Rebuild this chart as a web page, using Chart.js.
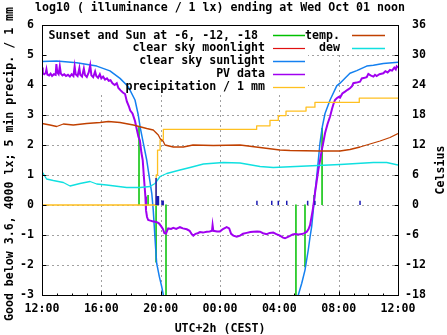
<!DOCTYPE html>
<html><head><meta charset="utf-8">
<script src="https://cdn.jsdelivr.net/npm/chart.js@4"></script>
<style>html,body{margin:0;padding:0;background:#fff}canvas{display:block}</style>
</head><body>
<canvas id="c" width="447" height="335"></canvas>
<script>
// ---------- text ----------
const titleText = "log10 ( illuminance / 1 lx) ending at Wed Oct 01 noon";
const yLeftTitle = "Good below 3.6, 4000 lx; 5 min precip. / 1 mm";
const yRightTitle = "Celsius";
const xTitle = "UTC+2h (CEST)";
const xTickLabels = ["12:00","16:00","20:00","00:00","04:00","08:00","12:00"];
const seriesNames = ["Sunset and Sun at -6, -12, -18 ","clear sky moonlight","clear sky sunlight","PV data","precipitation / 1 mm","temp.","dew"];

// ---------- data (x = hours since 12:00) ----------
const sunEventHours  = [6.54, 7.15, 7.69, 8.36, 17.12, 17.73, 18.34, 18.88];
const sunEventValues = [2.63, 0.33, -1.90, -3.60, -3.60, -2.06, 0.33, 2.57];

const moonHours = [];
const moonValues = [];

const sunHours  = [0, 0.99, 2.34, 3.69, 4.58, 5.26, 5.82, 6.27, 6.49, 6.61, 6.83, 7.06, 7.23, 7.40, 7.50, 7.57, 7.64, 7.73, 7.91, 8.07, 8.18, 8.30, null,
                   17.15, 17.28, 17.51, 17.73, 17.95, 18.07, 18.18, 18.29, 18.40, 18.52, 18.63, 18.74, 18.90, 19.08, 19.42, 19.87, 20.09, 20.76, 21.22, 21.89, 22.34, 23.01, 24.0];
const sunValues = [4.78, 4.80, 4.74, 4.63, 4.47, 4.22, 3.94, 3.50, 3.00, 2.61, 2.06, 1.50, 0.94, 0.39, -0.17, -0.72, -1.28, -1.94, -2.39, -2.72, -3.00, -3.30, null,
                   -3.30, -3.00, -2.61, -2.17, -1.50, -1.06, -0.72, -0.17, 0.39, 0.94, 1.50, 2.06, 2.61, 3.05, 3.50, 3.97, 4.06, 4.39, 4.48, 4.63, 4.66, 4.72, 4.76];

const pvHours = [0.00,0.05,0.15,0.25,0.30,0.36,0.48,0.58,0.68,0.80,0.92,0.97,1.03,1.12,1.20,1.27,1.38,1.50,1.62,1.75,1.88,2.00,2.12,2.20,2.27,2.40,2.52,2.58,2.70,2.82,2.90,3.02,3.15,3.25,3.33,3.45,3.58,3.66,3.78,3.90,4.00,4.12,4.25,4.38,4.50,4.62,4.75,4.90,5.04,5.15,5.30,5.45,5.60,5.72,5.85,5.95,6.10,6.27,6.40,6.50,6.60,6.70,6.79,6.86,6.92,6.97,7.01,7.08,7.16,7.30,7.45,7.62,7.78,7.90,8.05,8.15,8.25,8.36,8.45,8.51,8.70,8.85,9.05,9.30,9.50,9.76,9.95,10.10,10.20,10.35,10.50,10.65,10.85,11.10,11.30,11.46,11.50,11.55,11.80,12.00,12.20,12.45,12.62,12.75,12.90,13.13,13.35,13.55,13.80,14.05,14.25,14.50,14.70,14.90,15.15,15.35,15.59,15.80,16.04,16.25,16.38,16.55,16.72,16.90,17.06,17.30,17.51,17.70,17.85,17.97,18.07,18.17,18.25,18.33,18.40,18.52,18.63,18.75,18.86,18.97,19.08,19.25,19.42,19.55,19.64,19.75,19.87,20.00,20.09,20.25,20.43,20.60,20.76,20.90,20.99,21.20,21.44,21.56,21.75,21.89,22.00,22.15,22.34,22.45,22.56,22.75,23.01,23.15,23.30,23.46,23.60,23.75,23.85,23.91,24.00];
const pvValues = [4.58,4.40,4.36,4.40,4.52,4.35,4.32,4.38,4.30,4.36,4.34,4.70,4.42,4.36,4.62,4.38,4.32,4.36,4.30,4.34,4.28,4.36,4.30,4.62,4.36,4.30,4.56,4.34,4.28,4.55,4.33,4.27,4.42,4.66,4.32,4.26,4.45,4.30,4.24,4.36,4.22,4.28,4.18,4.22,4.14,4.16,4.06,4.00,4.06,3.90,3.82,3.75,3.70,3.45,3.30,3.15,3.05,2.80,2.50,2.28,2.15,1.75,1.50,1.00,0.60,0.28,-0.17,-0.40,-0.50,-0.52,-0.54,-0.56,-0.58,-0.62,-0.72,-0.80,-0.94,-0.95,-0.84,-0.78,-0.80,-0.76,-0.80,-0.74,-0.78,-0.81,-0.86,-0.98,-1.02,-0.96,-0.94,-0.90,-0.92,-0.89,-0.88,-0.86,-0.67,-0.86,-0.88,-0.88,-0.80,-0.74,-0.78,-0.96,-1.02,-1.06,-1.02,-0.96,-0.93,-0.90,-0.89,-0.88,-0.89,-0.94,-0.97,-0.93,-0.92,-0.97,-1.02,-1.09,-1.11,-1.07,-1.03,-0.98,-0.97,-0.98,-0.97,-0.94,-0.89,-0.80,-0.67,-0.40,-0.17,0.10,0.39,0.80,1.17,1.50,1.83,2.10,2.39,2.70,2.95,3.20,3.35,3.50,3.56,3.60,3.58,3.72,3.78,3.84,3.89,3.96,4.06,4.08,4.11,4.22,4.24,4.26,4.37,4.32,4.28,4.34,4.30,4.36,4.39,4.46,4.42,4.50,4.48,4.58,4.52,4.62,4.58];

const rainTotalHours  = [0, 7.66, 7.70, 7.79, 7.96, 8.18, 14.47, 15.37, 15.93, 16.45, 17.80, 18.40, 21.39, 24.0];
const rainTotalValues = [0, 0, 1.00, 1.83, 2.17, 2.52, 2.64, 2.82, 2.98, 3.13, 3.26, 3.42, 3.56, 3.56];

const rain5minHours  = [7.69, 7.77, 7.85, 8.09, 8.17, 14.49, 15.49, 15.93, 16.50, 17.91, 18.40, 21.44];
const rain5minValues = [0.90, 0.30, 0.30, 0.15, 0.15, 0.14, 0.14, 0.14, 0.14, 0.14, 0.14, 0.14];

const tempHours = [0, 0.54, 0.99, 1.44, 2.11, 3.01, 3.91, 4.47, 5.26, 6.16, 7.06, 7.50, 7.84, 7.96, 8.18, 8.29, 8.85, 9.53, 10.18, 11.55, 13.35, 14.70, 16.04, 16.72, 18.74, 20.09, 20.76, 21.44, 22.11, 22.79, 23.46, 24.0];
const tempC     = [16.3, 16.0, 15.7, 16.2, 16.0, 16.3, 16.5, 16.7, 16.5, 16.0, 15.3, 15.0, 14.0, 13.3, 12.7, 12.0, 11.6, 11.6, 12.0, 11.9, 12.0, 11.5, 11.0, 10.9, 10.8, 10.8, 11.1, 11.6, 12.2, 12.8, 13.5, 14.3];

const dewHours = [0, 0.31, 0.76, 1.44, 1.89, 2.56, 3.24, 3.69, 4.36, 5.71, 6.61, 7.28, 7.62, 7.96, 8.41, 9.30, 9.98, 10.88, 12.22, 13.35, 14.70, 15.59, 17.85, 20.09, 22.34, 23.24, 24.0];
const dewC     = [6.7, 5.2, 4.9, 4.5, 3.8, 4.3, 4.7, 4.2, 4.0, 3.5, 3.5, 3.7, 4.3, 5.7, 6.3, 7.0, 7.5, 8.2, 8.5, 8.4, 7.7, 7.5, 7.8, 8.1, 8.5, 8.5, 8.0];

// ---------- helpers ----------
const pts = (xs, ys) => xs.map((h, i) => ({x: h, y: ys[i]}));
const impulses = (xs, ys) => xs.flatMap((h, i) => [{x: h, y: 0}, {x: h, y: ys[i]}, {x: h, y: null}]);

const FAM = '"DejaVu Sans Mono", "Liberation Mono", monospace';
const FS = 11.6;
const FONT = 'bold ' + FS + 'px ' + FAM;

const base = {pointRadius: 0, pointHoverRadius: 0, tension: 0, fill: false, spanGaps: false, borderJoinStyle: 'round'};

const gnuplotLook = {
  id: 'gnuplotLook',
  beforeDraw(chart) {
    const c = chart.ctx; c.save(); c.fillStyle = '#fff'; c.fillRect(0, 0, chart.width, chart.height); c.restore();
  },
  beforeDatasetsDraw(chart) {
    const {ctx, chartArea: a, scales: {x, y}} = chart;
    ctx.save();
    ctx.strokeStyle = '#a0a0a0'; ctx.lineWidth = 1; ctx.setLineDash([2, 3]);
    x.ticks.forEach(t => {
      if (t.value <= x.min || t.value >= x.max) return;
      const p = Math.round(x.getPixelForValue(t.value)) + 0.5;
      ctx.beginPath(); ctx.moveTo(p, a.top); ctx.lineTo(p, a.bottom); ctx.stroke();
    });
    y.ticks.forEach(t => {
      if (t.value <= y.min || t.value >= y.max) return;
      const p = Math.round(y.getPixelForValue(t.value)) + 0.5;
      ctx.beginPath(); ctx.moveTo(a.left, p); ctx.lineTo(a.right, p); ctx.stroke();
    });
    ctx.setLineDash([]);
    // key area keeps the grid out
    ctx.fillStyle = '#fff';
    ctx.fillRect(a.left + 2, a.top + 1, 264, 68);
    ctx.fillRect(a.left + 266, a.top + 1, 84, 28);
    ctx.restore();
  },
  afterDatasetsDraw(chart) {
    const {ctx, chartArea: a, scales: {x, y, y2}} = chart;
    ctx.save();
    ctx.strokeStyle = '#000'; ctx.lineWidth = 1;
    const L = Math.round(a.left) + 0.5, R = Math.round(a.right) + 0.5, T = Math.round(a.top) + 0.5, B = Math.round(a.bottom) + 0.5;
    ctx.beginPath();
    for (let h = x.min; h <= x.max; h += 1) {
      const p = Math.round(x.getPixelForValue(h)) + 0.5;
      const len = (h % 4 === 0) ? 4 : 2;
      ctx.moveTo(p, B); ctx.lineTo(p, B - len);
    }
    y.ticks.forEach(t => { const p = Math.round(y.getPixelForValue(t.value)) + 0.5; ctx.moveTo(L, p); ctx.lineTo(L + 4, p); });
    y2.ticks.forEach(t => { const p = Math.round(y2.getPixelForValue(t.value)) + 0.5; ctx.moveTo(R, p); ctx.lineTo(R - 4, p); });
    ctx.stroke();
    ctx.strokeRect(L, T, R - L, B - T);
    ctx.restore();
  },
  afterDraw(chart) {
    const {ctx, chartArea: a} = chart;
    ctx.save();
    ctx.font = FONT; ctx.fillStyle = '#000';
    ctx.textAlign = 'center'; ctx.textBaseline = 'alphabetic';
    ctx.fillText(titleText, (a.left + a.right) / 2, 10.5);
    ctx.fillText(xTitle, (a.left + a.right) / 2, 332);
    ctx.save(); ctx.translate(12.5, 164); ctx.rotate(-Math.PI / 2); ctx.fillText(yLeftTitle, 0, 0); ctx.restore();
    ctx.save(); ctx.translate(443.5, 170); ctx.rotate(-Math.PI / 2); ctx.fillText(yRightTitle, 0, 0); ctx.restore();
    // key
    const entries = chart.data.datasets.filter(d => d.label);
    const cols = [{textR: 265, s0: 273, s1: 305, items: entries.slice(0, 5)}, {textR: 340, s0: 352, s1: 385, items: entries.slice(5)}];
    ctx.textAlign = 'right'; ctx.textBaseline = 'middle';
    cols.forEach(col => col.items.forEach((d, i) => {
      const yy = 35 + i * 12.9;
      ctx.fillStyle = '#000';
      ctx.fillText(d.label, col.textR, yy + 0.5);
      ctx.strokeStyle = d.borderColor; ctx.lineWidth = Math.min(d.borderWidth, 1.5);
      ctx.beginPath(); ctx.moveTo(col.s0, Math.round(yy) + 0.5); ctx.lineTo(col.s1, Math.round(yy) + 0.5); ctx.stroke();
    }));
    ctx.restore();
  }
};

new Chart(document.getElementById('c'), {
  type: 'line',
  data: {
    datasets: [
      {...base, label: seriesNames[0], data: impulses(sunEventHours, sunEventValues), borderColor: '#00c000', borderWidth: 1.5, yAxisID: 'y', order: 8},
      {...base, label: seriesNames[1], data: pts(moonHours, moonValues), borderColor: '#e01010', borderWidth: 1.2, yAxisID: 'y', order: 7},
      {...base, label: seriesNames[2], data: pts(sunHours, sunValues), borderColor: '#1480f0', borderWidth: 1.5, yAxisID: 'y', order: 6},
      {...base, label: seriesNames[3], data: pts(pvHours, pvValues), borderColor: '#a000f0', borderWidth: 2, yAxisID: 'y', order: 5, borderJoinStyle: 'miter'},
      {...base, label: seriesNames[4], data: pts(rainTotalHours, rainTotalValues), borderColor: '#ffc020', borderWidth: 1.3, stepped: true, yAxisID: 'y', order: 4},
      {...base, label: seriesNames[5], data: pts(tempHours, tempC), borderColor: '#c04000', borderWidth: 1.3, yAxisID: 'y2', order: 3},
      {...base, label: seriesNames[6], data: pts(dewHours, dewC), borderColor: '#10e0e0', borderWidth: 1.3, yAxisID: 'y2', order: 2},
      {...base, data: impulses(rain5minHours, rain5minValues), borderColor: '#1c1cb4', borderWidth: 1.5, yAxisID: 'y', order: 1}
    ]
  },
  options: {
    responsive: false, animation: false, devicePixelRatio: 1,
    layout: {padding: {top: 25, left: 0, right: 0, bottom: 0}},
    plugins: {legend: {display: false}, title: {display: false}, tooltip: {enabled: false}},
    events: [],
    scales: {
      x: {type: 'linear', position: 'bottom', min: 0, max: 24,
          grid: {display: false, drawTicks: false}, border: {display: false},
          ticks: {stepSize: 4, padding: 7, color: '#000', maxRotation: 0, autoSkip: false,
                  font: {family: FAM, size: FS, weight: 'bold'},
                  callback: v => xTickLabels[Math.round(v / 4)]},
          afterFit: s => { s.height = 40; }},
      y: {type: 'linear', position: 'left', min: -3, max: 6,
          grid: {display: false, drawTicks: false}, border: {display: false},
          ticks: {stepSize: 1, padding: 8, color: '#000', font: {family: FAM, size: FS, weight: 'bold'}},
          afterFit: s => { s.width = 42; }},
      y2: {type: 'linear', position: 'right', min: -18, max: 36,
          grid: {display: false, drawTicks: false}, border: {display: false},
          ticks: {stepSize: 6, padding: 7, color: '#000', font: {family: FAM, size: FS, weight: 'bold'},
                  callback: v => (v < 0 ? String(v) : ' ' + v)},
          afterFit: s => { s.width = 49; }}
    }
  },
  plugins: [gnuplotLook]
});
</script>
</body></html>
